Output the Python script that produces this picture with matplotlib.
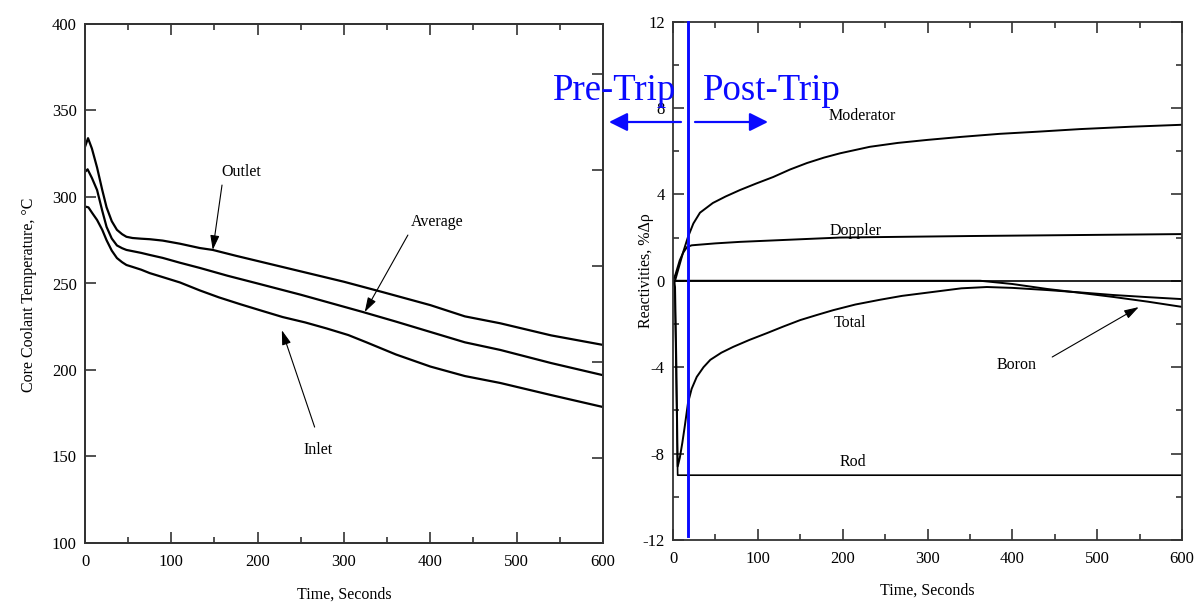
import numpy as np
import matplotlib
matplotlib.use("Agg")
import matplotlib.pyplot as plt
from matplotlib.ticker import MultipleLocator, NullFormatter

plt.rcParams['font.family'] = ['Liberation Serif', 'DejaVu Serif']
plt.rcParams['axes.unicode_minus'] = False

# ---- left panel: core coolant temperatures (deg C) ----
t_outlet = [0, 3.5, 8, 14, 20, 25, 31, 37, 43, 48, 55, 65, 75, 90, 110, 133, 148, 175, 200, 250, 300, 345, 400, 440, 481, 540, 600]
T_outlet = [329, 334, 328, 317, 304, 294, 286, 281, 278.5, 277, 276.3, 275.9, 275.6, 274.8, 273, 270.5, 269.4, 266, 263, 257, 251, 245, 237.5, 231, 227, 220, 214.5]

t_avg = [0, 3, 8, 14, 20, 25, 31, 37, 43, 48, 55, 65, 75, 90, 110, 133, 165, 200, 250, 322, 360, 400, 440, 481, 540, 600]
T_avg = [314.5, 316, 311, 304, 292, 282.7, 276, 272, 270.4, 269.4, 268.7, 267.7, 266.5, 264.8, 262, 259, 254.5, 250, 243.5, 233.5, 228, 222, 216, 211.6, 204, 197]

t_inlet = [0, 4, 8, 14, 20, 25, 31, 37, 43, 48, 55, 65, 75, 90, 110, 133, 155, 180, 205, 229, 255, 280, 305, 326, 360, 400, 440, 481, 540, 600]
T_inlet = [294.5, 294, 291, 286.7, 281, 275, 269, 264.7, 262.3, 260.7, 259.6, 258, 256, 253.7, 250.6, 246, 242, 238, 234.2, 230.6, 227.5, 224, 220.2, 216, 209, 202, 196.5, 192.5, 185.5, 178.6]

# ---- right panel: reactivities (%dk) ----
t_mod = [0, 2.4, 6, 11.8, 17.7, 24, 31.8, 47, 62, 79, 98, 118, 138, 158, 178, 197, 232, 265, 300, 340, 385, 430, 480, 540, 600]
r_mod = [0, 0, 0.5, 1.3, 2.03, 2.65, 3.15, 3.6, 3.9, 4.2, 4.5, 4.8, 5.15, 5.45, 5.7, 5.9, 6.2, 6.38, 6.52, 6.66, 6.8, 6.9, 7.02, 7.13, 7.22]

t_dop = [0, 3, 8, 12, 16.5, 22, 28, 50, 79, 197, 350, 600]
r_dop = [0, 0.3, 0.95, 1.3, 1.56, 1.64, 1.66, 1.73, 1.8, 2.0, 2.07, 2.16]

t_tot = [0, 2.4, 4, 5.5, 8, 11, 14, 17.7, 22, 28, 36, 44, 57, 71, 90, 111, 130, 150, 170, 189, 215, 244, 270, 300, 340, 370, 400, 441, 480, 519, 560, 600]
r_tot = [0, -0.3, -4, -8.6, -8.2, -7.5, -6.7, -5.65, -5.0, -4.45, -4.0, -3.66, -3.33, -3.06, -2.74, -2.42, -2.12, -1.82, -1.58, -1.36, -1.1, -0.88, -0.7, -0.55, -0.35, -0.29, -0.33, -0.43, -0.54, -0.66, -0.76, -0.85]

t_boron = [0, 362, 400, 441, 480, 519, 560, 600]
r_boron = [0, 0, -0.15, -0.38, -0.56, -0.75, -0.97, -1.21]

t_rod = [0, 2, 5.5, 600]
r_rod = [0, 0, -9, -9]

trip_time = 17.7

W, H = 1196, 603
fig = plt.figure(figsize=(W / 100, H / 100), dpi=100)

spine_c = '#333333'
blue = '#0a0aff'


def style(ax):
    for s in ax.spines.values():
        s.set_color(spine_c)
        s.set_linewidth(1.3)
    ax.tick_params(which='both', direction='in', color=spine_c, width=1.2,
                   labelsize=12, top=True)
    ax.tick_params(which='major', length=8)
    ax.tick_params(which='minor', length=4)
    ax.xaxis.set_major_locator(MultipleLocator(100))
    ax.xaxis.set_minor_locator(MultipleLocator(50))
    ax.set_xlim(0, 600)
    ax.tick_params(axis='x', pad=8)
    ax.tick_params(axis='y', pad=6)


# left axes
ax1 = fig.add_axes([85 / W, 1 - 543 / H, 518 / W, 519 / H])
style(ax1)
ax1.set_ylim(100, 400)
ax1.yaxis.set_major_locator(MultipleLocator(50))
ax1.tick_params(axis='y', right=False)
for tt, TT in [(t_outlet, T_outlet), (t_avg, T_avg), (t_inlet, T_inlet)]:
    ax1.plot(tt, TT, color='black', lw=1.6)

ax1.set_xlabel('Time, Seconds', fontsize=11.5)
ax1.xaxis.set_label_coords(0.5, -0.085)
ax1.set_ylabel('Core Coolant Temperature, \u00b0C', fontsize=11.5)
ax1.yaxis.set_label_coords(-0.092, 0.478)

# right spine with Fahrenheit ticks (unlabelled)
axF = ax1.twinx()
axF.set_ylim(100 * 9 / 5 + 32, 400 * 9 / 5 + 32)
axF.yaxis.set_major_locator(MultipleLocator(100))
axF.yaxis.set_major_formatter(NullFormatter())
axF.tick_params(direction='in', length=8, color=spine_c, width=1.2)
for s in axF.spines.values():
    s.set_color(spine_c)
    s.set_linewidth(1.3)

arr = dict(arrowstyle='-|>,head_length=0.8,head_width=0.25', lw=0.8,
           color='black', mutation_scale=11, shrinkA=0, shrinkB=0)
ax1.annotate('', xy=(148, 269.4), xytext=(158.7, 306.9), arrowprops=arr)
ax1.text(158, 310, 'Outlet', fontsize=11.5, ha='left', va='bottom')
ax1.annotate('', xy=(324, 233.5), xytext=(374, 278), arrowprops=arr)
ax1.text(378, 281, 'Average', fontsize=11.5, ha='left', va='bottom')
ax1.annotate('', xy=(228, 223), xytext=(266, 167), arrowprops=arr)
ax1.text(270, 154, 'Inlet', fontsize=11.5, ha='center', va='center')

# right axes
ax2 = fig.add_axes([673 / W, 1 - 540 / H, 509 / W, 518.5 / H])
style(ax2)
ax2.set_ylim(-12, 12)
ax2.yaxis.set_major_locator(MultipleLocator(4))
ax2.yaxis.set_minor_locator(MultipleLocator(2))
ax2.tick_params(axis='y', which='both', right=True)
ax2.axhline(0, color='black', lw=1.2)
for tt, rr in [(t_mod, r_mod), (t_dop, r_dop), (t_tot, r_tot), (t_boron, r_boron)]:
    ax2.plot(tt, rr, color='black', lw=1.4)
ax2.plot(t_rod, r_rod, color='black', lw=1.2)

ax2.set_xlabel('Time, Seconds', fontsize=11.5)
ax2.xaxis.set_label_coords(0.5, -0.082)
ax2.set_ylabel('Reactivities, %\u0394\u03c1', fontsize=11.5)
ax2.yaxis.set_label_coords(-0.038, 0.519)

ax2.text(223, 7.63, 'Moderator', fontsize=11.5, ha='center', va='center')
ax2.text(215, 2.3, 'Doppler', fontsize=11.5, ha='center', va='center')
ax2.text(209, -1.96, 'Total', fontsize=11.5, ha='center', va='center')
ax2.text(212, -8.37, 'Rod', fontsize=11.5, ha='center', va='center')
ax2.text(405, -3.9, 'Boron', fontsize=11.5, ha='center', va='center')
ax2.annotate('', xy=(549, -1.22), xytext=(447, -3.53), arrowprops=arr)

# trip marker
ax2.plot([trip_time, trip_time], [-11.8, 12], color=blue, lw=2.1, clip_on=False, zorder=5)

fig.text(553 / W, 1 - 100 / H, 'Pre-Trip', color=blue, fontsize=26.5, ha='left', va='baseline')
fig.text(703 / W, 1 - 100 / H, 'Post-Trip', color=blue, fontsize=26.5, ha='left', va='baseline')
barr = dict(arrowstyle='-|>,head_length=0.8,head_width=0.4', lw=1.6,
            color=blue, mutation_scale=14, shrinkA=0, shrinkB=0)
fig.add_artist(matplotlib.text.Annotation('', xy=(609 / W, 1 - 122 / H), xytext=(681 / W, 1 - 122 / H),
                                          xycoords='figure fraction', textcoords='figure fraction',
                                          arrowprops=barr))
fig.add_artist(matplotlib.text.Annotation('', xy=(768 / W, 1 - 122 / H), xytext=(695 / W, 1 - 122 / H),
                                          xycoords='figure fraction', textcoords='figure fraction',
                                          arrowprops=barr))

fig.savefig('out.png', dpi=100)
